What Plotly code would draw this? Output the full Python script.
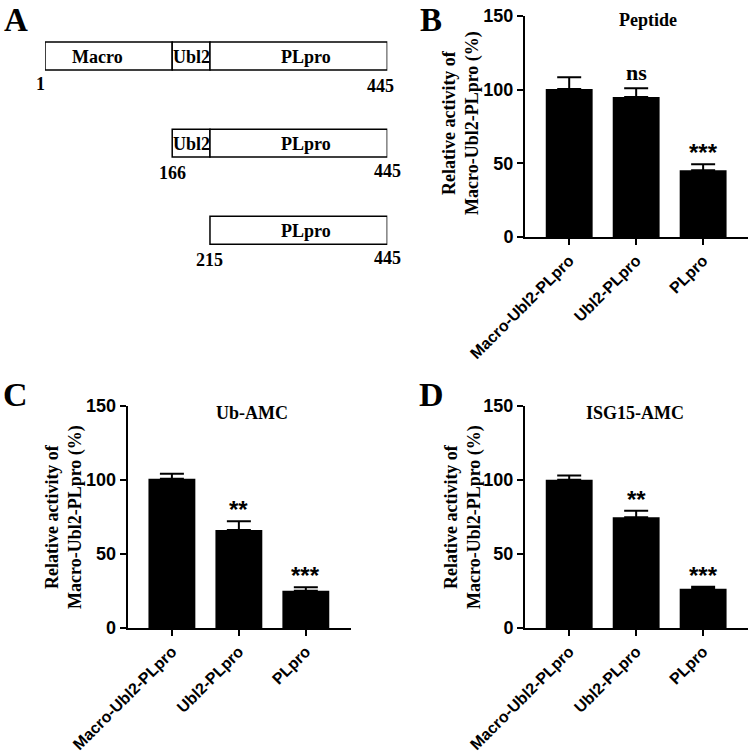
import plotly.graph_objects as go

# ---------------- data ----------------
categories = ["Macro-Ubl2-PLpro", "Ubl2-PLpro", "PLpro"]

peptide_vals = [100.4, 95.0, 45.3]
peptide_err = [8.0, 5.9, 4.0]
peptide_sig = ["", "ns", "***"]

ubamc_vals = [100.8, 66.3, 25.2]
ubamc_err = [3.4, 5.9, 2.3]
ubamc_sig = ["", "**", "***"]

isg_vals = [100.1, 74.9, 26.6]
isg_err = [2.9, 4.3, 1.3]
isg_sig = ["", "**", "***"]

y_ticks = [0, 50, 100, 150]

# domain map (panel A)
seg_rows = [0, 0, 0, 1, 1, 2]
seg_names = ["Macro", "Ubl2", "PLpro", "Ubl2", "PLpro", "PLpro"]
seg_start = [1, 166, 215, 166, 215, 215]
seg_end = [166, 215, 445, 215, 445, 445]
row_start = [1, 166, 215]
row_end = [445, 445, 445]

SERIF = "Liberation Serif"
SANS = "Liberation Sans"

fig = go.Figure()

# ---------------- panel A ----------------
fig.add_trace(go.Bar(
    y=seg_rows, base=seg_start,
    x=[e - s for s, e in zip(seg_start, seg_end)],
    orientation="h", width=0.32,
    marker=dict(color="white", line=dict(color="black", width=1.5)),
    xaxis="x", yaxis="y", showlegend=False, hoverinfo="skip"))

annotations = []
label_shift = {"Macro": -11, "Ubl2": 0, "PLpro": 7}
for r, n, s, e in zip(seg_rows, seg_names, seg_start, seg_end):
    annotations.append(dict(x=(s + e) / 2, y=r, xref="x", yref="y", text=f"<b>{n}</b>",
                            showarrow=False, xshift=label_shift[n], yshift=-1,
                            font=dict(family=SERIF, size=18, color="black")))
start_shift = [-5, 0, 0]
end_shift = [-7, 0, 0]
for r, (s, e) in enumerate(zip(row_start, row_end)):
    annotations.append(dict(x=s, y=r, xref="x", yref="y", text=f"<b>{s}</b>", showarrow=False,
                            yshift=-28 if r == 0 else -30, xshift=start_shift[r],
                            font=dict(family=SERIF, size=18, color="black")))
    annotations.append(dict(x=e, y=r, xref="x", yref="y", text=f"<b>{e}</b>", showarrow=False,
                            yshift=-30 if r == 0 else -28, xshift=end_shift[r],
                            font=dict(family=SERIF, size=18, color="black")))

# ---------------- bar panels ----------------
panels = [
    ("x2", "y2", peptide_vals, peptide_err, peptide_sig),
    ("x3", "y3", ubamc_vals, ubamc_err, ubamc_sig),
    ("x4", "y4", isg_vals, isg_err, isg_sig),
]
for xa, ya, vals, errs, sigs in panels:
    fig.add_trace(go.Bar(
        x=categories, y=vals, width=0.7,
        marker=dict(color="black", line=dict(width=0)),
        error_y=dict(type="data", array=errs, arrayminus=[0] * len(errs), symmetric=False,
                     color="black", thickness=2, width=12),
        xaxis=xa, yaxis=ya, showlegend=False))
    for c, v, e, s in zip(categories, vals, errs, sigs):
        if not s:
            continue
        if s == "ns":
            annotations.append(dict(x=c, y=v + e, xref=xa, yref=ya, text=f"<b>{s}</b>",
                                    showarrow=False, yanchor="bottom", yshift=1,
                                    font=dict(family=SERIF, size=22, color="black")))
        else:
            annotations.append(dict(x=c, y=v + e, xref=xa, yref=ya, text=f"<b>{s}</b>",
                                    showarrow=False, yanchor="bottom", yshift=-4,
                                    font=dict(family=SANS, size=24, color="black")))

# y titles and panel titles
ytitle = "<b>Relative activity of<br>Macro-Ubl2-PLpro (%)</b>"
for xp, yp in [(461, 123), (64, 517), (463, 517)]:
    annotations.append(dict(x=xp / 750, y=1 - yp / 756, xref="paper", yref="paper",
                            text=ytitle, textangle=-90, showarrow=False,
                            xanchor="center", yanchor="middle",
                            font=dict(family=SERIF, size=18, color="black")))
for t, xp, yp in [("Peptide", 648, 20), ("Ub-AMC", 252, 413), ("ISG15-AMC", 635, 413)]:
    annotations.append(dict(x=xp / 750, y=1 - yp / 756, xref="paper", yref="paper",
                            text=f"<b>{t}</b>", showarrow=False,
                            xanchor="center", yanchor="middle",
                            font=dict(family=SERIF, size=18, color="black")))
# panel letters: top row anchored to the top edge, bottom row centred
for t, xp in [("A", 16), ("B", 431)]:
    annotations.append(dict(x=xp / 750, y=1, xref="paper", yref="paper",
                            text=f"<b>{t}</b>", showarrow=False, borderpad=0,
                            xanchor="center", yanchor="top", yshift=-1,
                            font=dict(family=SERIF, size=33, color="black")))
for t, xp, yp in [("C", 15, 394), ("D", 432, 395)]:
    annotations.append(dict(x=xp / 750, y=1 - yp / 756, xref="paper", yref="paper",
                            text=f"<b>{t}</b>", showarrow=False,
                            xanchor="center", yanchor="middle",
                            font=dict(family=SERIF, size=34, color="black")))

yax = dict(range=[0, 150], tickvals=y_ticks, showline=True, linecolor="black", linewidth=2,
           ticks="outside", ticklen=6, tickwidth=2, tickcolor="black", showgrid=False,
           zeroline=False, automargin=False,
           tickfont=dict(family=SANS, size=18, color="black", weight="bold"))
xax = dict(range=[-0.66, 2.67], type="category", showline=True, linecolor="black", linewidth=2,
           ticks="outside", ticklen=6, tickwidth=2, tickcolor="black", showgrid=False,
           tickangle=-45, automargin=False,
           tickfont=dict(family=SANS, size=16, color="black", weight="bold"))

fig.update_layout(
    width=750, height=756, margin=dict(l=0, r=0, t=0, b=0, pad=0), autosize=False,
    paper_bgcolor="white", plot_bgcolor="white",
    barmode="overlay",
    xaxis=dict(domain=[45 / 750, 387.3 / 750], range=[1, 445], visible=False, automargin=False),
    yaxis=dict(domain=[1 - 273.9 / 756, 1 - 12.4 / 756], range=[2.5, -0.5], visible=False,
               automargin=False),
    xaxis2=dict(domain=[525 / 750, 748 / 750], anchor="y2", **xax),
    yaxis2=dict(domain=[1 - 237 / 756, 1 - 16 / 756], anchor="x2", **yax),
    xaxis3=dict(domain=[127.7 / 750, 350.7 / 750], anchor="y3", **xax),
    yaxis3=dict(domain=[1 - 628 / 756, 1 - 406 / 756], anchor="x3", **yax),
    xaxis4=dict(domain=[525 / 750, 748 / 750], anchor="y4", **xax),
    yaxis4=dict(domain=[1 - 628 / 756, 1 - 406 / 756], anchor="x4", **yax),
    annotations=annotations,
)

fig.write_html("out.html", config={"displayModeBar": False},
               post_script="document.body.style.margin='0';document.body.style.overflow='hidden';")
